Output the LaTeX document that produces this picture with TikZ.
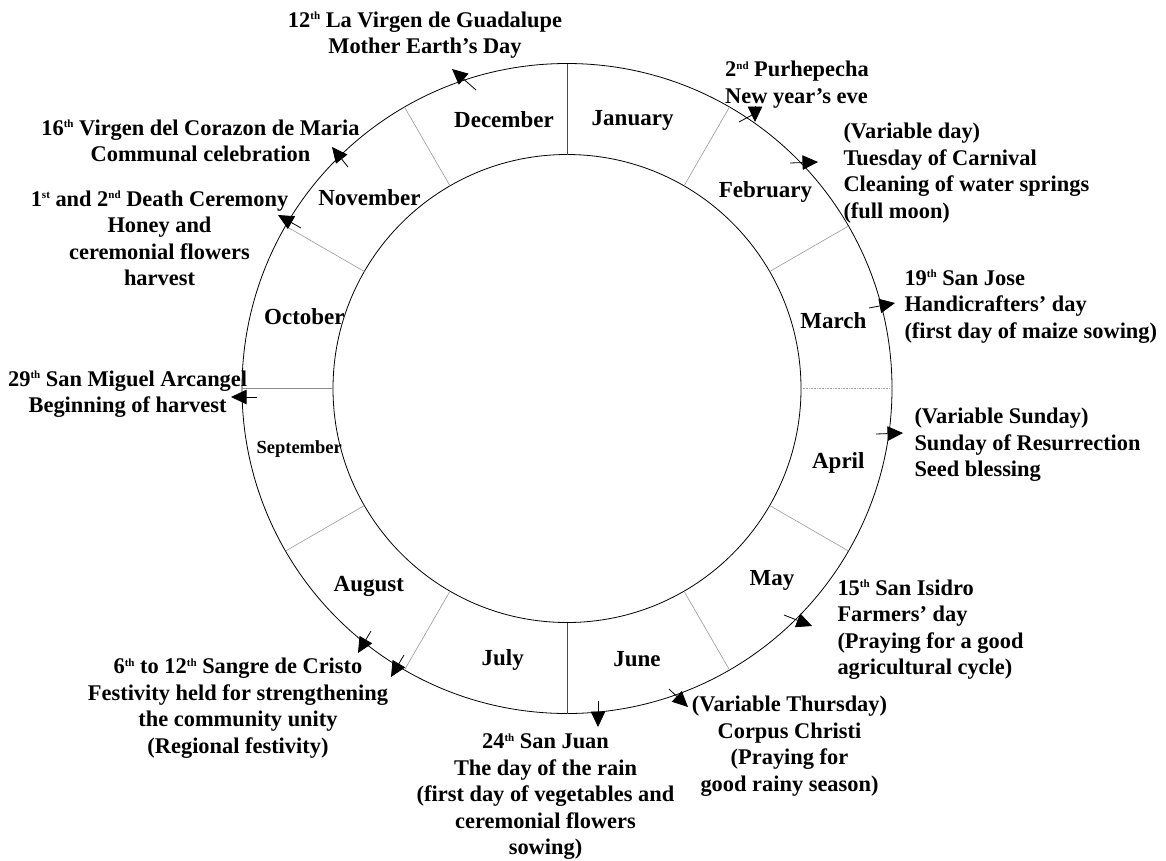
\documentclass[tikz,border=0pt]{standalone}
\usepackage{fontspec}
\setmainfont{Liberation Serif}
\usetikzlibrary{arrows.meta}
% small raised ordinal suffix
\newcommand\ordsfx[1]{\raisebox{7.3pt}{\fontsize{11}{11}\selectfont #1}}
% fixed height for the first line of each text block
\newcommand\evstrut{\rule{0pt}{19pt}}
\begin{document}
\begin{tikzpicture}[x=1pt,y=-1pt,
  ring/.style={line width=0.8pt, black},
  rule/.style={line width=0.6pt, black!40},
  axisrule/.style={line width=0.8pt, black!70},
  siderule/.style={line width=1pt, black!45},
  dotrule/.style={line width=0.6pt, black!35, densely dotted},
  evtext/.style={font=\fontsize{22.4}{26.5}\selectfont\bfseries, inner sep=0pt},
  evleft/.style={evtext, align=left, anchor=north west},
  evcenter/.style={evtext, align=center, anchor=north},
  month/.style={font=\fontsize{23}{27}\selectfont\bfseries, inner sep=0pt, anchor=base},
  evarrow/.style={line width=0.8pt, -{Triangle[length=15.5pt,width=14.5pt]}},
  evshaft/.style={line width=0.8pt},
  ]
\useasboundingbox (0,0) rectangle (1166,860);

% ---- the year ring ----
\coordinate (c) at (567,388.5);
\draw[ring] (c) circle[radius=325pt];
\draw[ring] (c) circle[radius=234pt];
\foreach \a in {30,60,120,150,210,240,300,330}
  \draw[rule] (c) ++(\a:234pt) -- ++(\a:91pt);
\draw[axisrule] (c) ++(90:234pt) -- ++(90:91pt);
\draw[axisrule] (c) ++(270:234pt) -- ++(270:91pt);
\draw[siderule] (c) ++(180:234pt) -- ++(180:91pt);
\draw[dotrule] (c) ++(0:234pt) -- ++(0:91pt);

% ---- months ----
\node[month] (jan) at (632.6,125) {January};
\node[month] (feb) at (765.5,197.3) {February};
\node[month] (mar) at (833.3,328.3) {March};
\node[month] (apr) at (838.3,468.3) {April};
\node[month] (may) at (772,585) {May};
\node[month] (jun) at (637,666.7) {June};
\node[month] (jul) at (502.7,665) {July};
\node[month] (aug) at (368.8,591.7) {August};
\node[month, font=\fontsize{18.5}{22}\selectfont\bfseries] (sep) at (299.2,453.3) {September};
\node[month] (oct) at (304.4,324) {October};
\node[month] (nov) at (369.4,205.7) {November};
\node[month] (dec) at (504,127.7) {December};

% ---- festivities ----
\node[evcenter] (guadalupe) at (425,8)
  {\evstrut 12\ordsfx{th} La Virgen de Guadalupe\\Mother Earth’s Day};
\node[evleft] (purhepecha) at (725,57.7)
  {\evstrut 2\ordsfx{nd} Purhepecha\\New year’s eve};
\node[evleft] (carnival) at (843.3,119.3)
  {\evstrut (Variable day)\\Tuesday of Carnival\\Cleaning of water springs\\(full moon)};
\node[evleft] (sanjose) at (904.3,266)
  {\evstrut 19\ordsfx{th} San Jose\\Handicrafters’ day\\(first day of maize sowing)};
\node[evleft] (easter) at (914.3,404.3)
  {\evstrut (Variable Sunday)\\Sunday of Resurrection\\Seed blessing};
\node[evleft] (isidro) at (837.3,576)
  {\evstrut 15\ordsfx{th} San Isidro\\Farmers’ day\\(Praying for a good\\agricultural cycle)};
\node[evcenter] (corpus) at (789.5,692.7)
  {\evstrut (Variable Thursday)\\Corpus Christi\\(Praying for\\good rainy season)};
\node[evcenter] (sanjuan) at (545.5,729.3)
  {\evstrut 24\ordsfx{th} San Juan\\The day of the rain\\(first day of vegetables and\\ceremonial flowers\\sowing)};
\node[evcenter] (sangre) at (238,654.3)
  {\evstrut 6\ordsfx{th} to 12\ordsfx{th} Sangre de Cristo\\Festivity held for strengthening\\the community unity\\(Regional festivity)};
\node[evcenter] (miguel) at (127.6,367)
  {\evstrut 29\ordsfx{th} San Miguel Arcangel\\Beginning of harvest};
\node[evcenter] (death) at (159.5,187)
  {\evstrut 1\ordsfx{st} and 2\ordsfx{nd} Death Ceremony\\Honey and\\ceremonial flowers\\harvest};
\node[evcenter] (corazon) at (200.5,116)
  {\evstrut 16\ordsfx{th} Virgen del Corazon de Maria\\Communal celebration};

% ---- date markers on the ring ----
\coordinate (decT) at (476,90);   \coordinate (decH) at (452,69);
\coordinate (janS) at (739,122);  \coordinate (janB) at (752,115);
\coordinate (janT) at (755,106);  \coordinate (janH) at (755,122);
\coordinate (febT) at (790,163);  \coordinate (febH) at (818,162);
\coordinate (marT) at (869,308);  \coordinate (marH) at (895,303);
\coordinate (aprT) at (876,434);  \coordinate (aprH) at (903,433);
\coordinate (mayT) at (784,615);  \coordinate (mayH) at (812,626);
\coordinate (corT) at (669,689);  \coordinate (corH) at (688,707);
\coordinate (juaT) at (598,701);  \coordinate (juaH) at (598,727);
\coordinate (augAT) at (371,631); \coordinate (augAH) at (358,653);
\coordinate (augBT) at (404,655); \coordinate (augBH) at (391,677);
\coordinate (sepT) at (257,397);  \coordinate (sepH) at (231,397);
\coordinate (novAT) at (301,228); \coordinate (novAH) at (278,215);
\coordinate (novBT) at (348,167); \coordinate (novBH) at (332,147);

\draw[evarrow] (decT) -- (decH);
\draw[evshaft] (janS) -- (janB);
\draw[evarrow] (janT) -- (janH);
\draw[evarrow] (febT) -- (febH);
\draw[evarrow] (marT) -- (marH);
\draw[evarrow] (aprT) -- (aprH);
\draw[evarrow] (mayT) -- (mayH);
\draw[evarrow] (corT) -- (corH);
\draw[evarrow] (juaT) -- (juaH);
\draw[evarrow] (augAT) -- (augAH);
\draw[evarrow] (augBT) -- (augBH);
\draw[evarrow] (sepT) -- (sepH);
\draw[evarrow] (novAT) -- (novAH);
\draw[evarrow] (novBT) -- (novBH);
\end{tikzpicture}
\end{document}
